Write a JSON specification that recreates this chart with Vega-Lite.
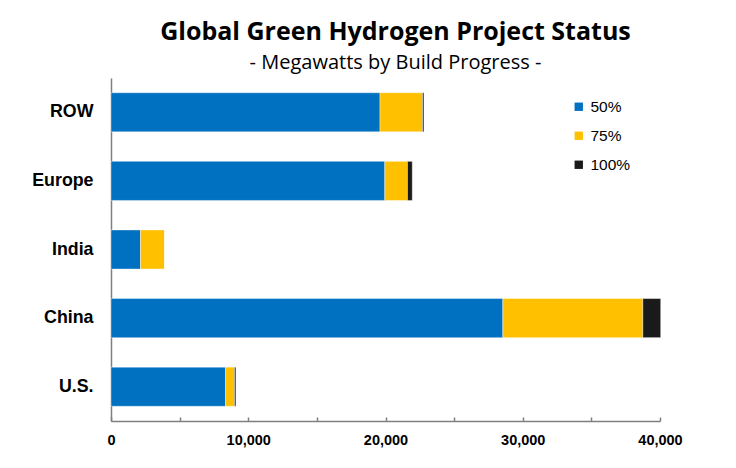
{
  "$schema": "https://vega.github.io/schema/vega-lite/v6.json",
  "width": 549,
  "height": 343,
  "autosize": {"type": "none"},
  "padding": {"left": 111, "top": 78, "right": 76, "bottom": 47},
  "background": "white",
  "config": {"view": {"stroke": null}, "font": "Liberation Sans"},
  "title": {
    "text": "Global Green Hydrogen Project Status",
    "subtitle": "- Megawatts by Build Progress -",
    "anchor": "middle",
    "frame": "group",
    "dx": 10,
    "offset": 5,
    "font": "Open Sans",
    "subtitleFont": "Open Sans",
    "fontSize": 25,
    "fontWeight": "bold",
    "color": "#000000",
    "subtitleFontSize": 20,
    "subtitleColor": "#000000",
    "subtitlePadding": 8
  },
  "data": {
    "values": [
      {"region": "ROW", "stage": "50%", "mw": 19600},
      {"region": "ROW", "stage": "75%", "mw": 3100},
      {"region": "ROW", "stage": "100%", "mw": 100},
      {"region": "Europe", "stage": "50%", "mw": 19950},
      {"region": "Europe", "stage": "75%", "mw": 1650},
      {"region": "Europe", "stage": "100%", "mw": 350},
      {"region": "India", "stage": "50%", "mw": 2150},
      {"region": "India", "stage": "75%", "mw": 1750},
      {"region": "India", "stage": "100%", "mw": 0},
      {"region": "China", "stage": "50%", "mw": 28550},
      {"region": "China", "stage": "75%", "mw": 10200},
      {"region": "China", "stage": "100%", "mw": 1300},
      {"region": "U.S.", "stage": "50%", "mw": 8350},
      {"region": "U.S.", "stage": "75%", "mw": 650},
      {"region": "U.S.", "stage": "100%", "mw": 100}
    ]
  },
  "transform": [
    {"calculate": "indexof(['50%','75%','100%'], datum.stage)", "as": "stageOrder"}
  ],
  "mark": {"type": "bar", "stroke": "white", "strokeWidth": 0.4},
  "encoding": {
    "y": {
      "field": "region",
      "type": "nominal",
      "sort": ["ROW", "Europe", "India", "China", "U.S."],
      "scale": {"paddingInner": 0.43, "paddingOuter": 0.215},
      "axis": {
        "title": null,
        "ticks": false,
        "domainColor": "#7f7f7f",
        "domainWidth": 1.5,
        "labelFontSize": 17.8,
        "labelFontWeight": "bold",
        "labelColor": "#000000",
        "labelPadding": 18
      }
    },
    "x": {
      "field": "mw",
      "type": "quantitative",
      "stack": "zero",
      "scale": {"domain": [0, 40000], "nice": false},
      "axis": {
        "title": null,
        "grid": false,
        "values": [0, 5000, 10000, 15000, 20000, 25000, 30000, 35000, 40000],
        "labelExpr": "datum.value % 10000 === 0 ? format(datum.value, ',') : ''",
        "labelFlush": false,
        "domainColor": "#7f7f7f",
        "domainWidth": 1.5,
        "tickColor": "#7f7f7f",
        "tickWidth": 1.5,
        "tickSize": -4,
        "labelFontSize": 14.5,
        "labelFontWeight": "bold",
        "labelColor": "#000000",
        "labelPadding": 16
      }
    },
    "color": {
      "field": "stage",
      "type": "nominal",
      "scale": {"domain": ["50%", "75%", "100%"], "range": ["#0070C0", "#FFC000", "#1a1a1a"]},
      "legend": {
        "title": null,
        "orient": "none",
        "legendX": 460,
        "legendY": 21,
        "symbolType": "square",
        "symbolSize": 70,
        "symbolStrokeWidth": 0,
        "labelFontSize": 15.5,
        "labelColor": "#000000",
        "rowPadding": 12,
        "labelOffset": 4
      }
    },
    "order": {"field": "stageOrder", "type": "quantitative"}
  }
}
